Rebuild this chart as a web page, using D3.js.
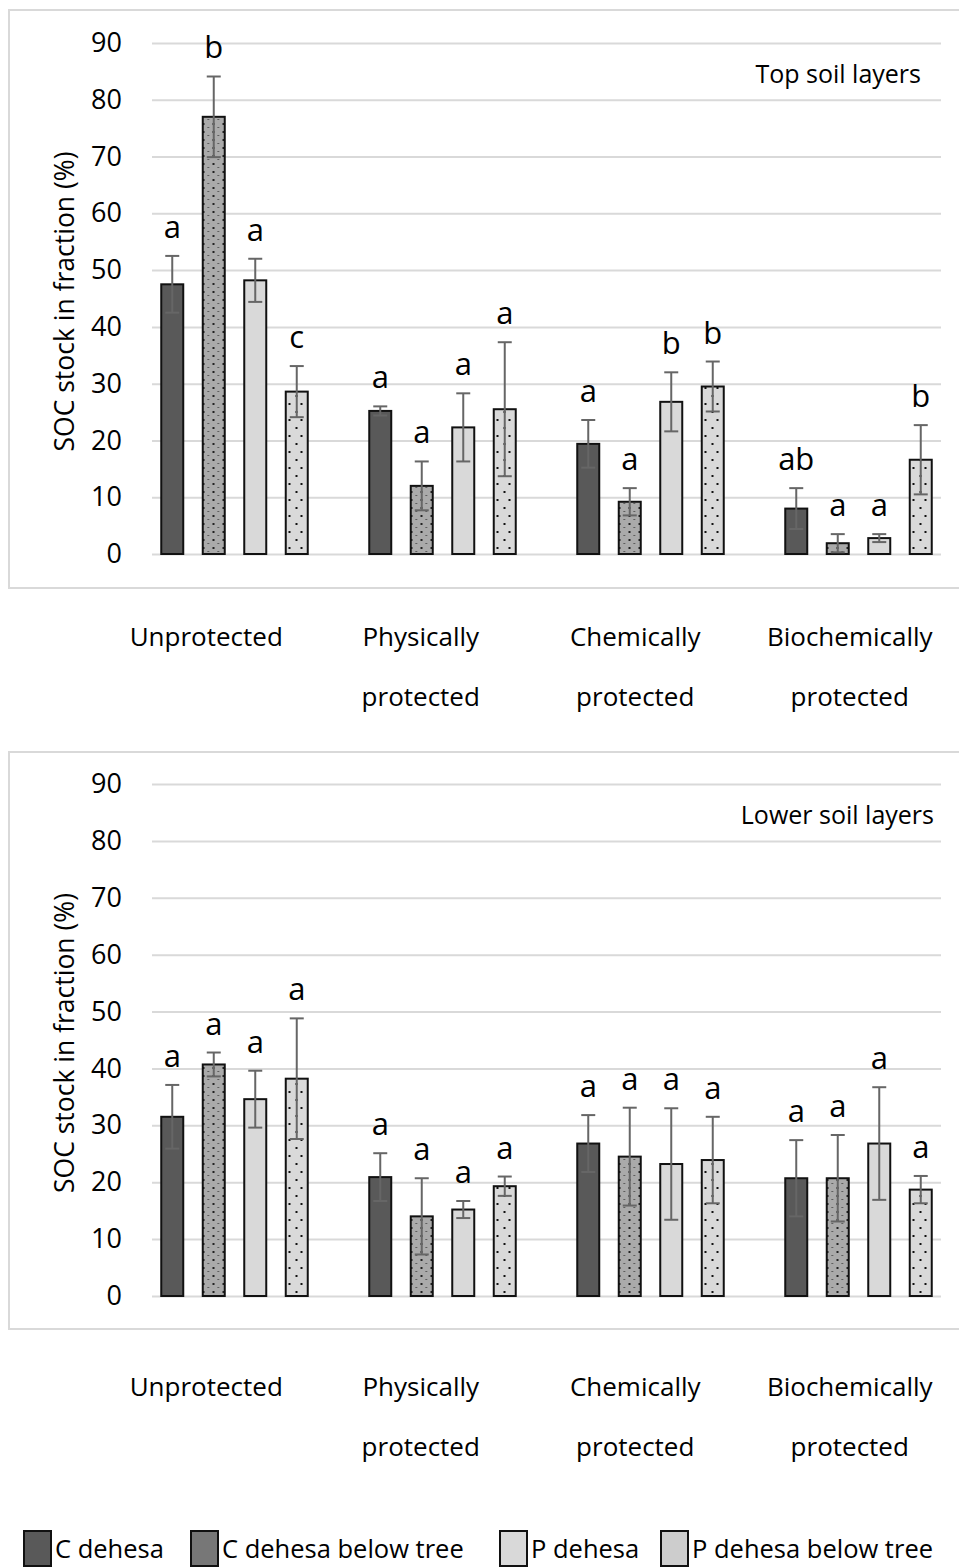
<!doctype html>
<html lang="en">
<head>
  <meta charset="UTF-8">
  <title>SOC stock in fraction</title>
  <style>
    body { margin: 0; background: #fff; }
    text { font-family: "Open Sans", "Noto Sans", sans-serif; fill: #000; }
  </style>
  <script src="https://cdn.jsdelivr.net/npm/d3@7/dist/d3.min.js"></script>
</head>
<body>
  <div id="container"></div>
  <script>
    // fractions and treatments
    var categories = [["Unprotected"], ["Physically", "protected"], ["Chemically", "protected"], ["Biochemically", "protected"]];
    var series = ["C dehesa", "C dehesa below tree", "P dehesa", "P dehesa below tree"];
    var yTicks = [0, 10, 20, 30, 40, 50, 60, 70, 80, 90];

    // top soil layers: rows = fraction, cols = series
    var topMeans = [[47.5, 77, 48.2, 28.6], [25.2, 12, 22.3, 25.5], [19.4, 9.2, 26.8, 29.5], [8, 1.9, 2.8, 16.6]];
    var topErrs = [[5, 7.1, 3.8, 4.5], [0.8, 4.3, 6, 11.8], [4.2, 2.4, 5.2, 4.4], [3.6, 1.6, 0.7, 6.1]];
    var topLetters = [["a", "b", "a", "c"], ["a", "a", "a", "a"], ["a", "a", "b", "b"], ["ab", "a", "a", "b"]];

    // lower soil layers
    var lowMeans = [[31.5, 40.7, 34.6, 38.2], [20.9, 14, 15.2, 19.3], [26.8, 24.5, 23.2, 23.9], [20.7, 20.7, 26.8, 18.7]];
    var lowErrs = [[5.6, 2.1, 5, 10.6], [4.2, 6.7, 1.5, 1.7], [5, 8.6, 9.8, 7.6], [6.7, 7.6, 9.9, 2.4]];
    var lowLetters = [["a", "a", "a", "a"], ["a", "a", "a", "a"], ["a", "a", "a", "a"], ["a", "a", "a", "a"]];

    var width = 959, height = 1568;
    var svg = d3.select('#container').append('svg').attr('width', width).attr('height', height);

    // dot patterns for the "below tree" bars
    var defs = svg.append('defs');
    var p1 = defs.append('pattern').attr('id', 'dotsDense').attr('patternUnits', 'userSpaceOnUse')
      .attr('width', 10).attr('height', 8);
    p1.append('rect').attr('width', 10).attr('height', 8).attr('fill', '#aaaaaa');
    p1.append('rect').attr('x', 2).attr('y', 3).attr('width', 2).attr('height', 2).attr('fill', '#222');
    p1.append('rect').attr('x', 7).attr('y', 7).attr('width', 1.5).attr('height', 1).attr('fill', '#444');
    var p2 = defs.append('pattern').attr('id', 'dotsSparse').attr('patternUnits', 'userSpaceOnUse')
      .attr('width', 12).attr('height', 16);
    p2.append('rect').attr('width', 12).attr('height', 16).attr('fill', '#d9d9d9');
    p2.append('rect').attr('x', 2).attr('y', 3).attr('width', 2).attr('height', 2).attr('fill', '#111');
    p2.append('rect').attr('x', 9).attr('y', 11).attr('width', 2).attr('height', 2).attr('fill', '#111');

    var fills = ['#595959', 'url(#dotsDense)', '#d9d9d9', 'url(#dotsSparse)'];
    var legendFills = ['#595959', '#777777', '#d9d9d9', '#cdcdcd'];

    var x0 = d3.scaleBand().domain(d3.range(categories.length)).range([130.5, 962.5]);
    var x1 = d3.scaleBand().domain(d3.range(series.length)).range([21, 187]);
    var xLab = d3.scaleBand().domain(d3.range(categories.length)).range([99, 957]);
    var barW = 22;

    function drawPanel(opt) {
      var g = svg.append('g');
      var y = d3.scaleLinear().domain([0, 90]).range([opt.y0, opt.y90]);

      g.append('rect').attr('x', 9).attr('y', opt.boxTop).attr('width', 970).attr('height', opt.boxH)
        .attr('fill', 'none').attr('stroke', '#d9d9d9').attr('stroke-width', 2);

      // gridlines and tick labels
      var yAxis = d3.axisLeft(y).tickValues(yTicks).tickSize(-(941 - 152)).tickPadding(30);
      var ax = g.append('g').attr('transform', 'translate(152,0)').call(yAxis);
      ax.select('.domain').remove();
      ax.selectAll('.tick line').attr('stroke', '#d9d9d9').attr('stroke-width', 2);
      ax.selectAll('.tick text').attr('font-size', 27).attr('fill', '#000')
        .attr('font-family', '"Open Sans", sans-serif');

      g.append('text').attr('transform', 'translate(74,' + (y(45) + 3) + ') rotate(-90)')
        .attr('text-anchor', 'middle').attr('font-size', 26.5).text('SOC stock in fraction (%)');

      g.append('text').attr('x', opt.titleX).attr('y', y(90) + 40).attr('text-anchor', 'end')
        .attr('font-size', 25).text(opt.title);

      var groups = g.selectAll('.grp').data(opt.means).enter().append('g')
        .attr('transform', function (d, i) { return 'translate(' + x0(i) + ',0)'; });

      groups.each(function (row, ci) {
        var gg = d3.select(this);
        row.forEach(function (v, si) {
          var cx = x1(si) + x1.bandwidth() / 2;
          gg.append('rect').attr('x', cx - barW / 2).attr('y', y(v)).attr('width', barW)
            .attr('height', y(0) - y(v)).attr('fill', fills[si]).attr('stroke', '#111').attr('stroke-width', 2);
          var e = opt.errs[ci][si];
          var hi = y(v + e), lo = y(Math.max(0, v - e));
          gg.append('line').attr('x1', cx).attr('x2', cx).attr('y1', hi).attr('y2', lo)
            .attr('stroke', '#666').attr('stroke-width', 2);
          [hi, lo].forEach(function (yy) {
            gg.append('line').attr('x1', cx - 7).attr('x2', cx + 7).attr('y1', yy).attr('y2', yy)
              .attr('stroke', '#666').attr('stroke-width', 2);
          });
          gg.append('text').attr('x', cx).attr('y', hi - 18).attr('text-anchor', 'middle')
            .attr('font-size', 31).text(opt.letters[ci][si]);
        });
      });

      // category labels under the box
      categories.forEach(function (lines, ci) {
        var t = g.append('text').attr('text-anchor', 'middle').attr('font-size', 26)
          .attr('x', xLab(ci) + xLab.bandwidth() / 2).attr('y', opt.y0 + opt.labOff);
        lines.forEach(function (s, li) {
          t.append('tspan').attr('x', xLab(ci) + xLab.bandwidth() / 2).attr('dy', li ? 60 : 0).text(s);
        });
      });
    }

    drawPanel({ y0: 554, y90: 43, boxTop: 10, boxH: 578, labOff: 92, title: 'Top soil layers', titleX: 921,
      means: topMeans, errs: topErrs, letters: topLetters });
    drawPanel({ y0: 1296, y90: 784, boxTop: 752, boxH: 577, labOff: 100, title: 'Lower soil layers', titleX: 934,
      means: lowMeans, errs: lowErrs, letters: lowLetters });

    // legend
    var legX = [24, 191, 500, 661];
    var leg = svg.append('g');
    series.forEach(function (s, i) {
      leg.append('rect').attr('x', legX[i]).attr('y', 1531).attr('width', 27).attr('height', 35)
        .attr('fill', legendFills[i]).attr('stroke', '#111').attr('stroke-width', 2);
      leg.append('text').attr('x', legX[i] + 31).attr('y', 1558).attr('font-size', 25.5).text(s);
    });
  </script>
</body>
</html>
